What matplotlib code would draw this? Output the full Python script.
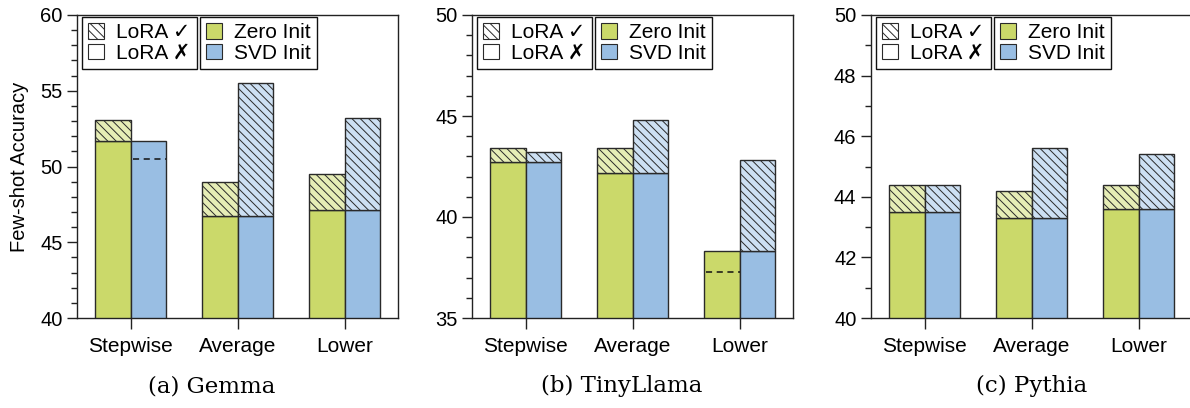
import matplotlib
matplotlib.use("Agg")
import matplotlib.pyplot as plt
from matplotlib.patches import Patch
from matplotlib.ticker import MultipleLocator

plt.rcParams["font.family"] = ["Liberation Sans", "DejaVu Sans"]
plt.rcParams["hatch.linewidth"] = 0.7

# Data
methods = ["Stepwise", "Average", "Lower"]

gemma_zero_base = [51.7, 46.7, 47.1]
gemma_zero_lora = [53.1, 49.0, 49.5]
gemma_svd_base = [51.7, 46.7, 47.1]
gemma_svd_lora = [50.5, 55.5, 53.2]

tinyllama_zero_base = [42.7, 42.2, 38.3]
tinyllama_zero_lora = [43.4, 43.4, 37.3]
tinyllama_svd_base = [42.7, 42.2, 38.3]
tinyllama_svd_lora = [43.2, 44.8, 42.8]

pythia_zero_base = [43.5, 43.3, 43.6]
pythia_zero_lora = [44.4, 44.2, 44.4]
pythia_svd_base = [43.5, 43.3, 43.6]
pythia_svd_lora = [44.4, 45.6, 45.4]

captions = ["(a) Gemma", "(b) TinyLlama", "(c) Pythia"]

GREEN = "#cbd96a"
BLUE = "#99bee3"
GREEN_LIGHT = "#e6edb6"
BLUE_LIGHT = "#cde0f3"
EDGE = "#2a2a2a"
HATCH = "\\\\\\\\"

panels = [
    (gemma_zero_base, gemma_zero_lora, gemma_svd_base, gemma_svd_lora, (40, 60), 5),
    (tinyllama_zero_base, tinyllama_zero_lora, tinyllama_svd_base, tinyllama_svd_lora, (35, 50), 5),
    (pythia_zero_base, pythia_zero_lora, pythia_svd_base, pythia_svd_lora, (40, 50), 2),
]

fig = plt.figure(figsize=(11.9, 4.08), dpi=100)
lefts = [77, 472, 871]
W, H = 1190, 408
width = 0.33


def draw_bars(ax, xs, base, lora, color, light):
    ax.bar(xs, base, width, color=color, edgecolor=EDGE, linewidth=1.0, zorder=2)
    for x, b, l in zip(xs, base, lora):
        if l > b:
            ax.bar(x, l - b, width, bottom=b, color=light, edgecolor=EDGE,
                   linewidth=1.0, hatch=HATCH, zorder=2)
        else:
            ax.hlines(l, x - width / 2 + 0.02, x + width / 2, colors="#111111",
                      linestyles=(0, (4, 3)), linewidth=1.1, zorder=3)


for i, (zb, zl, sb, sl, ylim, major) in enumerate(panels):
    ax = fig.add_axes([lefts[i] / W, 1 - 318 / H, 321 / W, 303 / H])
    xs = list(range(len(methods)))
    draw_bars(ax, [x - width / 2 for x in xs], zb, zl, GREEN, GREEN_LIGHT)
    draw_bars(ax, [x + width / 2 for x in xs], sb, sl, BLUE, BLUE_LIGHT)

    ax.set_xlim(-0.5, 2.5)
    ax.set_ylim(*ylim)
    ax.set_xticks(xs)
    ax.set_xticklabels(methods, fontsize=15)
    ax.yaxis.set_major_locator(MultipleLocator(major))
    ax.yaxis.set_minor_locator(MultipleLocator(1))
    ax.tick_params(axis="y", which="major", length=7, width=1, labelsize=14.5, colors="#222222", labelcolor="black")
    ax.tick_params(axis="y", which="minor", length=4, width=1, colors="#222222")
    ax.tick_params(axis="x", length=8, width=1, colors="#222222", labelcolor="black", pad=6)
    for s in ax.spines.values():
        s.set_linewidth(1.0)
        s.set_color("#222222")

    if i == 0:
        ax.set_ylabel("Few-shot Accuracy", fontsize=14.5, labelpad=8)

    lora_handles = [
        Patch(facecolor="white", edgecolor=EDGE, hatch=HATCH, linewidth=0.8),
        Patch(facecolor="white", edgecolor=EDGE, linewidth=0.8),
    ]
    leg1 = ax.legend(lora_handles, ["LoRA \u2713", "LoRA \u2717"],
                     loc="upper left", bbox_to_anchor=(5 / 321, 1 - 2 / 303),
                     borderaxespad=0, fontsize=15, handlelength=0.75, handleheight=0.8,
                     handletextpad=0.6, labelspacing=0.05, borderpad=0.3,
                     fancybox=False, framealpha=1, edgecolor="#111111")
    leg1.get_frame().set_linewidth(1.0)
    ax.add_artist(leg1)
    init_handles = [
        Patch(facecolor=GREEN, edgecolor=EDGE, linewidth=0.8),
        Patch(facecolor=BLUE, edgecolor=EDGE, linewidth=0.8),
    ]
    leg2 = ax.legend(init_handles, ["Zero Init", "SVD Init"],
                     loc="upper left", bbox_to_anchor=(123 / 321, 1 - 2 / 303),
                     borderaxespad=0, fontsize=15, handlelength=0.75, handleheight=0.8,
                     handletextpad=0.6, labelspacing=0.05, borderpad=0.3,
                     fancybox=False, framealpha=1, edgecolor="#111111")
    leg2.get_frame().set_linewidth(1.0)

for cx, cap in zip([212, 622, 1032], captions):
    fig.text(cx / W, 1 - 386 / H, cap, ha="center", va="center",
             fontsize=16.5, family="DejaVu Serif")

fig.savefig("out.png", dpi=100)
